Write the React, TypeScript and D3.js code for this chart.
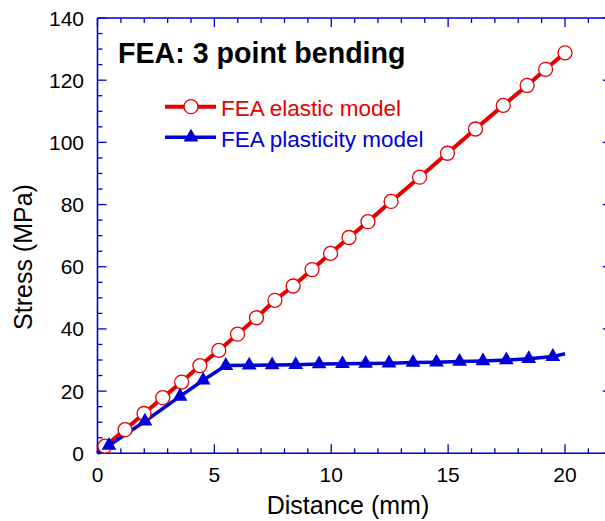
import React from "react";
import * as d3 from "d3";

const elasticX = [0.32, 1.18, 1.99, 2.79, 3.6, 4.38, 5.19, 5.99, 6.8, 7.59, 8.37, 9.18, 9.97, 10.76, 11.57, 12.56, 13.78, 14.97, 16.17, 17.36, 18.38, 19.17, 20.0];
const elasticY = [2.3, 7.6, 12.8, 17.9, 22.9, 28.2, 33.1, 38.3, 43.6, 49.2, 53.8, 59.1, 64.3, 69.4, 74.5, 81.0, 88.8, 96.5, 104.3, 111.9, 118.3, 123.5, 128.8];
const plasticX = [0.49, 2.03, 3.53, 4.52, 5.49, 6.49, 7.47, 8.48, 9.48, 10.48, 11.47, 12.47, 13.5, 14.5, 15.49, 16.49, 17.49, 18.45, 19.48];
const plasticY = [2.5, 10.3, 18.3, 23.5, 28.2, 28.3, 28.4, 28.5, 28.7, 28.8, 28.9, 29.0, 29.2, 29.3, 29.5, 29.7, 30.0, 30.4, 31.1];
const plasticLineEnd = [20.0, 32.0];

const xMajorTicks = [0, 5, 10, 15, 20];
const yMajorTicks = [0, 20, 40, 60, 80, 100, 120, 140];

const chartTitle = "FEA: 3 point bending";
const seriesNames = ["FEA elastic model", "FEA plasticity model"];
const xLabel = "Distance (mm)";
const yLabel = "Stress (MPa)";

const RED = "#e60000";
const BLUE = "#0000d8";
const AXIS = "#0000cc";
const FONT = "Arial, 'Liberation Sans', sans-serif";

export default function App() {
  const left = 97.5, right = 611.75, top = 18, bottom = 453.3;
  const x = d3.scaleLinear().domain([0, 22]).range([left, right]);
  const y = d3.scaleLinear().domain([0, 140]).range([bottom, top]);

  const xMinor = d3.range(0, 23, 1).filter((v) => v % 5 !== 0);
  const yMinor = d3.range(0, 141, 5).filter((v) => v % 20 !== 0);

  const line = d3.line<[number, number]>().x((d) => x(d[0])).y((d) => y(d[1]));
  const elasticPts: [number, number][] = [[0, 0], ...elasticX.map((v, i) => [v, elasticY[i]] as [number, number])];
  const plasticPts: [number, number][] = [[0, 0], ...plasticX.map((v, i) => [v, plasticY[i]] as [number, number]), [plasticLineEnd[0], plasticLineEnd[1]]];
  const tri = d3.symbol().type(d3.symbolTriangle).size(95)()!;

  const major = 9, minor = 5;

  return (
    <svg width={605} height={521} style={{ position: "absolute", left: 0, top: 0 }} fontFamily={FONT}>
      <rect width={605} height={521} fill="white" />
      <g stroke={AXIS} strokeWidth={1.6} fill="none">
        <line x1={left} x2={right} y1={bottom} y2={bottom} />
        <line x1={left} x2={right} y1={top} y2={top} />
        <line x1={left} x2={left} y1={top} y2={bottom} />
        <line x1={right} x2={right} y1={top} y2={bottom} />
      </g>
      <g stroke={AXIS} strokeWidth={1.3}>
        {xMajorTicks.map((t) => (
          <g key={"xm" + t}>
            <line x1={x(t)} x2={x(t)} y1={bottom} y2={bottom - major} />
            <line x1={x(t)} x2={x(t)} y1={top} y2={top + major} />
          </g>
        ))}
        {xMinor.map((t) => (
          <g key={"xn" + t}>
            <line x1={x(t)} x2={x(t)} y1={bottom} y2={bottom - minor} />
            <line x1={x(t)} x2={x(t)} y1={top} y2={top + minor} />
          </g>
        ))}
        {yMajorTicks.map((t) => (
          <g key={"ym" + t}>
            <line x1={left} x2={left + major} y1={y(t)} y2={y(t)} />
            <line x1={right} x2={right - major} y1={y(t)} y2={y(t)} />
          </g>
        ))}
        {yMinor.map((t) => (
          <g key={"yn" + t}>
            <line x1={left} x2={left + minor} y1={y(t)} y2={y(t)} />
            <line x1={right} x2={right - minor} y1={y(t)} y2={y(t)} />
          </g>
        ))}
      </g>
      <g fontSize={21} fill="black">
        {xMajorTicks.map((t) => (
          <text key={"xl" + t} x={x(t)} y={482} textAnchor="middle">{t}</text>
        ))}
        {yMajorTicks.map((t) => (
          <text key={"yl" + t} x={84} y={y(t) + 7.5} textAnchor="end">{t}</text>
        ))}
      </g>
      <text x={348} y={514} fontSize={25} textAnchor="middle">{xLabel}</text>
      <text transform={`translate(32,257) rotate(-90)`} fontSize={25} textAnchor="middle">{yLabel}</text>

      <path d={line(elasticPts)!} fill="none" stroke={RED} strokeWidth={4} />
      <path d={line(plasticPts)!} fill="none" stroke={BLUE} strokeWidth={3.5} />
      {elasticX.map((v, i) => (
        <circle key={"c" + i} cx={x(v)} cy={y(elasticY[i])} r={7} fill="white" stroke={RED} strokeWidth={1.3} />
      ))}
      {plasticX.map((v, i) => (
        <path key={"t" + i} d={tri} transform={`translate(${x(v)},${y(plasticY[i])})`} fill={BLUE} />
      ))}

      <text x={118} y={63} fontSize={28.6} fontWeight="bold" fill="black">{chartTitle}</text>

      <line x1={165} x2={216} y1={106.7} y2={106.7} stroke={RED} strokeWidth={4} />
      <circle cx={191} cy={106.7} r={7} fill="white" stroke={RED} strokeWidth={1.3} />
      <text x={221} y={115.7} fontSize={22.5} fill={RED}>{seriesNames[0]}</text>
      <line x1={165} x2={216} y1={137.3} y2={137.3} stroke={BLUE} strokeWidth={3.5} />
      <path d={tri} transform={`translate(191,137.3)`} fill={BLUE} />
      <text x={221} y={146.7} fontSize={22.5} fill={BLUE}>{seriesNames[1]}</text>
    </svg>
  );
}
